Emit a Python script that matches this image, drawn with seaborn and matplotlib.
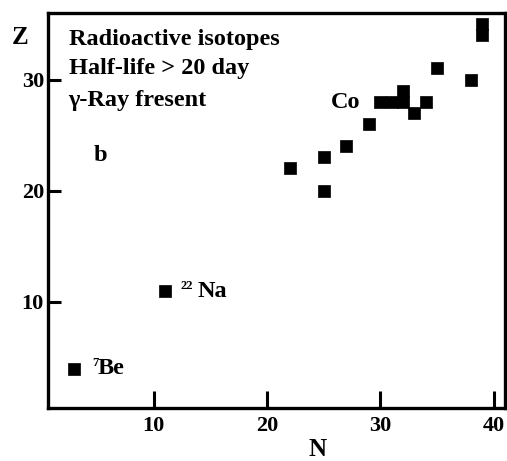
import pandas as pd
import seaborn as sns
import matplotlib.pyplot as plt

# puntos (N = neutrones, Z = protones)
n_vals = [3, 11, 22, 25, 25, 27, 29, 30, 31, 32, 32, 33, 34, 35, 38, 39, 39]
z_vals = [4, 11, 22, 23, 20, 24, 26, 28, 28, 28, 29, 27, 28, 31, 30, 34, 35]

x_ticks = [10, 20, 30, 40]
y_ticks = [10, 20, 30]

df = pd.DataFrame({"N": n_vals, "Z": z_vals})

sns.set_style("ticks")
plt.rcParams["font.family"] = ["Liberation Serif", "DejaVu Serif"]
plt.rcParams["font.weight"] = "bold"
for key in ["text.color", "axes.edgecolor", "xtick.color", "ytick.color", "axes.labelcolor"]:
    plt.rcParams[key] = "black"

fig = plt.figure(figsize=(5.07, 4.61), dpi=100)
ax = fig.add_axes([0.095, 0.115, 0.901, 0.857])

sns.scatterplot(x="N", y="Z", data=df, marker="s", s=80, color="black",
                edgecolor="black", linewidth=0.5, ax=ax)

ax.set_xlim(0.7, 41.0)
ax.set_ylim(0.45, 36.0)
ax.set_xticks(x_ticks)
ax.set_yticks(y_ticks)
ax.tick_params(axis="x", direction="in", length=12, width=2.2, labelsize=16, pad=6)
ax.tick_params(axis="y", direction="in", length=9, width=2.2, labelsize=16, pad=3)
for sp in ax.spines.values():
    sp.set_linewidth(2.4)

ax.set_xlabel("")
ax.set_ylabel("")
fig.text(0.627, 0.01, "N", fontsize=18, fontweight="bold", ha="center")
fig.text(0.04, 0.905, "Z", fontsize=18, fontweight="bold", ha="center")

# textos dentro del grafico
ax.text(2.5, 33.6, "Radioactive isotopes", fontsize=17.5, fontweight="bold", va="center")
ax.text(2.5, 31.0, "Half-life > 20 day", fontsize=17.5, fontweight="bold", va="center")
ax.text(2.5, 28.1, "γ-Ray fresent", fontsize=17.5, fontweight="bold", va="center")
ax.text(4.7, 23.2, "b", fontsize=17.5, fontweight="bold", va="center")
ax.text(25.6, 27.9, "Co", fontsize=17.5, fontweight="bold", va="center")
ax.text(12.4, 11.4, "22", fontsize=9, fontweight="bold", va="center")
ax.text(13.9, 10.9, "Na", fontsize=17.5, fontweight="bold", va="center")
ax.text(4.6, 4.5, "7", fontsize=9, fontweight="bold", va="center")
ax.text(5.1, 4.0, "Be", fontsize=17.5, fontweight="bold", va="center")

plt.savefig("out.png", dpi=100)
